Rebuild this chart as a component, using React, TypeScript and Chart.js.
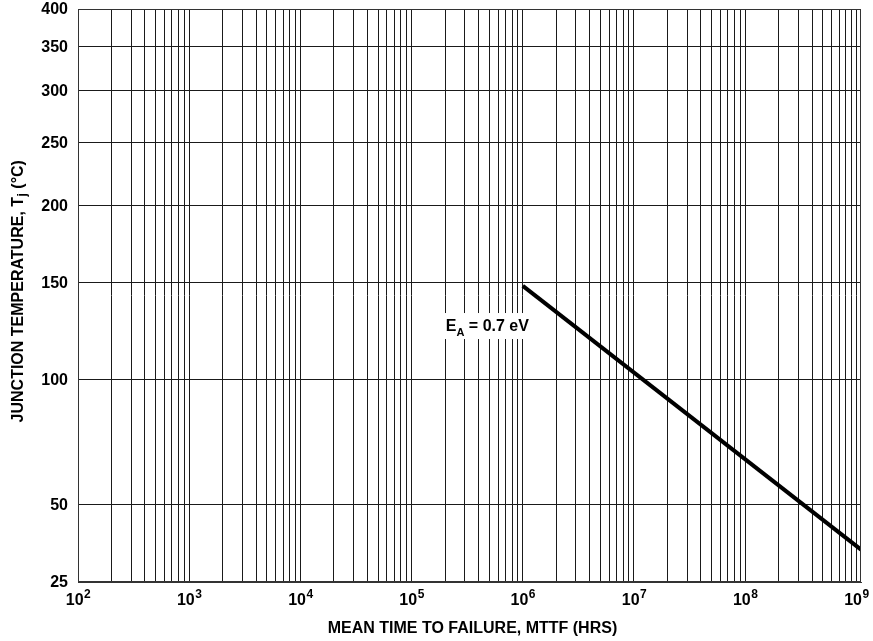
import React, { useEffect, useRef } from 'react';
import { Chart, registerables } from 'chart.js';

Chart.register(...registerables);

// ---- data ----
const mttfHours = [1e6, 1.1e9];
const junctionTempC = [148, 35];
const yTickTemps = [25, 50, 100, 150, 200, 250, 300, 350, 400];
const xDecadeExps = [2, 3, 4, 5, 6, 7, 8, 9];
const xMinorMultipliers = [1, 2, 3, 4, 5, 6, 7, 8, 9];
const xMin = 1e2;
const xMax = 1.1e9;
const annotationMain = 'E';
const annotationSub = 'A';
const annotationRest = ' = 0.7 eV';
const annotationX = 4.8e5;
const annotationY = 126;
const xTitle = 'MEAN TIME TO FAILURE, MTTF (HRS)';
const yTitleMain = 'JUNCTION TEMPERATURE, T';
const yTitleSub = 'j';
const yTitleRest = ' (°C)';

// reciprocal-temperature (Arrhenius-like) axis transform
const K_OFFSET = 290;
const toAxis = (t: number) => -1 / (t + K_OFFSET);
const fromAxis = (v: number) => -1 / v - K_OFFSET;

const FONT = "'Liberation Sans', Arial, Helvetica, sans-serif";

const drawPlugin = {
  id: 'customText',
  afterDraw(chart: any) {
    const { ctx, chartArea } = chart;
    const xs = chart.scales.x;
    const ys = chart.scales.y;
    ctx.save();

    // plot frame
    ctx.strokeStyle = '#333';
    ctx.lineWidth = 1;
    ctx.strokeRect(
      Math.round(chartArea.left) + 0.5,
      Math.round(chartArea.top) + 0.5,
      Math.round(chartArea.right - chartArea.left) - 1,
      Math.round(chartArea.bottom - chartArea.top) - 1
    );

    ctx.fillStyle = '#000';

    // y tick labels from the scale's ticks
    ctx.font = `bold 16px ${FONT}`;
    ctx.textAlign = 'right';
    ctx.textBaseline = 'middle';
    ys.ticks.forEach((t: any) => {
      const py = ys.getPixelForValue(t.value);
      ctx.fillText(String(Math.round(fromAxis(t.value))), chartArea.left - 10, py + 1);
    });

    // x tick labels 10^n
    ctx.textBaseline = 'alphabetic';
    ctx.textAlign = 'left';
    xDecadeExps.forEach((e) => {
      const px = xs.getPixelForValue(Math.pow(10, e));
      ctx.font = `bold 16px ${FONT}`;
      const w1 = ctx.measureText('10').width;
      ctx.font = `bold 12px ${FONT}`;
      const w2 = ctx.measureText(String(e)).width;
      const start = px - (w1 + w2) / 2;
      ctx.font = `bold 16px ${FONT}`;
      ctx.fillText('10', start, 605);
      ctx.font = `bold 12px ${FONT}`;
      ctx.fillText(String(e), start + w1 + 0.5, 598);
    });

    // x title
    ctx.font = `bold 16px ${FONT}`;
    ctx.textAlign = 'center';
    ctx.textBaseline = 'middle';
    ctx.fillText(xTitle, (chartArea.left + chartArea.right) / 2 + 3, 629);

    // y title (rotated)
    ctx.save();
    ctx.translate(19, (chartArea.top + chartArea.bottom) / 2 - 4);
    ctx.rotate(-Math.PI / 2);
    ctx.textAlign = 'left';
    ctx.textBaseline = 'middle';
    ctx.font = `bold 16px ${FONT}`;
    const a = ctx.measureText(yTitleMain).width;
    const c = ctx.measureText(yTitleRest).width;
    ctx.font = `bold 12px ${FONT}`;
    const b = ctx.measureText(yTitleSub).width;
    let sx = -(a + b + c) / 2;
    ctx.font = `bold 16px ${FONT}`;
    ctx.fillText(yTitleMain, sx, 0);
    sx += a;
    ctx.font = `bold 12px ${FONT}`;
    ctx.fillText(yTitleSub, sx + 0.5, 4);
    sx += b + 0.5;
    ctx.font = `bold 16px ${FONT}`;
    ctx.fillText(yTitleRest, sx, 0);
    ctx.restore();

    // annotation
    const ax = xs.getPixelForValue(annotationX);
    const ay = ys.getPixelForValue(toAxis(annotationY));
    ctx.font = `bold 16px ${FONT}`;
    const m1 = ctx.measureText(annotationMain).width;
    const m3 = ctx.measureText(annotationRest).width;
    ctx.font = `bold 11px ${FONT}`;
    const m2 = ctx.measureText(annotationSub).width;
    const tw = m1 + m2 + m3;
    const left = ax - tw / 2;
    ctx.fillStyle = '#fff';
    ctx.fillRect(left - 6, ay - 13, tw + 9, 26);
    ctx.fillStyle = '#000';
    ctx.textAlign = 'left';
    ctx.textBaseline = 'alphabetic';
    ctx.font = `bold 16px ${FONT}`;
    ctx.fillText(annotationMain, left, ay + 5);
    ctx.font = `bold 11px ${FONT}`;
    ctx.fillText(annotationSub, left + m1, ay + 10);
    ctx.font = `bold 16px ${FONT}`;
    ctx.fillText(annotationRest, left + m1 + m2, ay + 5);

    ctx.restore();
  },
};

export default function App() {
  const ref = useRef<HTMLCanvasElement | null>(null);

  useEffect(() => {
    document.body.style.margin = '0';
    const canvas = ref.current;
    if (!canvas) return;
    const chart = new Chart(canvas, {
      type: 'line',
      data: {
        datasets: [
          {
            data: mttfHours.map((x, i) => ({ x, y: toAxis(junctionTempC[i]) })),
            borderColor: '#000',
            borderWidth: 4,
            pointRadius: 0,
            fill: false,
            tension: 0,
          },
        ],
      },
      options: {
        animation: false,
        responsive: false,
        maintainAspectRatio: false,
        layout: { padding: { top: 9, right: 12, left: 0, bottom: 0 } },
        plugins: { legend: { display: false }, tooltip: { enabled: false } },
        scales: {
          x: {
            type: 'logarithmic',
            min: xMin,
            max: xMax,
            afterBuildTicks: (s: any) => {
              const t: any[] = [];
              xDecadeExps.forEach((e) => {
                if (e === xDecadeExps[xDecadeExps.length - 1]) {
                  t.push({ value: Math.pow(10, e), major: true });
                } else {
                  xMinorMultipliers.forEach((m) => t.push({ value: m * Math.pow(10, e), major: m === 1 }));
                }
              });
              s.ticks = t;
            },
            afterFit: (s: any) => {
              s.height = 59;
            },
            ticks: { display: false, autoSkip: false },
            grid: { color: '#1a1a1a', lineWidth: 1, drawTicks: false },
            border: { color: '#333', width: 1 },
          },
          y: {
            type: 'linear',
            min: toAxis(25),
            max: toAxis(400),
            afterBuildTicks: (s: any) => {
              s.ticks = yTickTemps.map((t) => ({ value: toAxis(t) }));
            },
            afterFit: (s: any) => {
              s.width = 78;
            },
            ticks: { display: false, autoSkip: false },
            grid: { color: '#1a1a1a', lineWidth: 1, drawTicks: false },
            border: { color: '#333', width: 1 },
          },
        },
      } as any,
      plugins: [drawPlugin],
    });
    return () => chart.destroy();
  }, []);

  return <canvas ref={ref} width={873} height={641} style={{ display: 'block' }} />;
}
